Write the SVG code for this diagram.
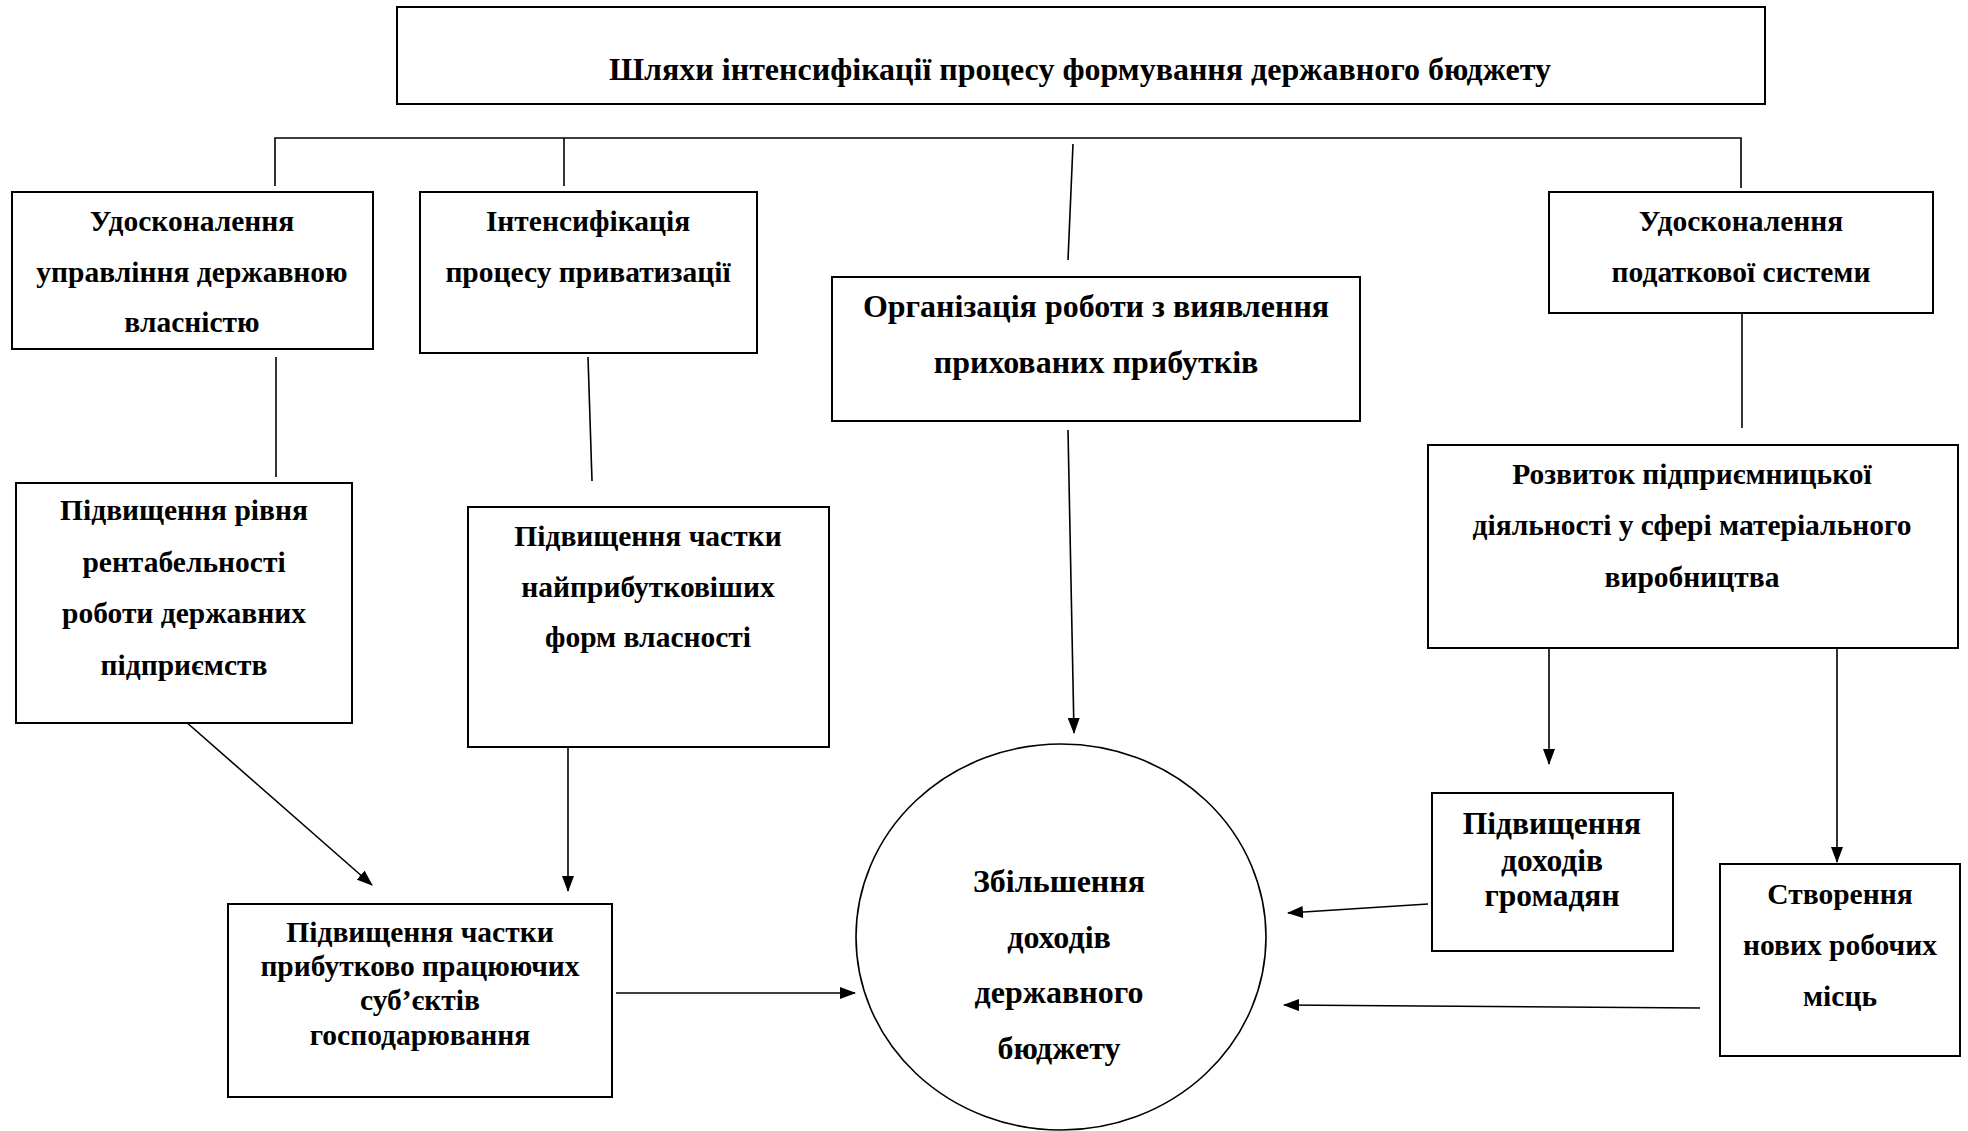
<svg xmlns="http://www.w3.org/2000/svg" width="1968" height="1131" viewBox="0 0 1968 1131">
<style>
.box{fill:#fff;stroke:#000;stroke-width:2}
.ln{fill:none;stroke:#000;stroke-width:1.6}
text{font-family:"Liberation Serif","Times New Roman",serif;font-weight:bold;font-size:29.5px;text-anchor:middle;fill:#000}
.big{font-size:31.5px}
.xl{font-size:32px}
</style>
<defs>
<marker id="ah" markerWidth="16" markerHeight="12" refX="15" refY="6" orient="auto" markerUnits="userSpaceOnUse">
<path d="M0,0 L16,6 L0,12 Z" fill="#000"/>
</marker>
</defs>
<rect width="1968" height="1131" fill="#fff"/>

<g id="connectors">
<path class="ln" d="M275,186 V138 H1741 V188"/>
<path class="ln" d="M564,138 V186"/>
<path class="ln" d="M1073,144 L1068,260"/>
<path class="ln" d="M276,357 V477"/>
<path class="ln" d="M588,357 L592,481"/>
<path class="ln" d="M1742,309 V428"/>
<path class="ln" marker-end="url(#ah)" d="M185,721 L372,885"/>
<path class="ln" marker-end="url(#ah)" d="M568,745 V891"/>
<path class="ln" marker-end="url(#ah)" d="M616,993 H855"/>
<path class="ln" marker-end="url(#ah)" d="M1068,430 L1074,733"/>
<path class="ln" marker-end="url(#ah)" d="M1549,646 V764"/>
<path class="ln" marker-end="url(#ah)" d="M1837,647 V862"/>
<path class="ln" marker-end="url(#ah)" d="M1428,904 L1288,913"/>
<path class="ln" marker-end="url(#ah)" d="M1700,1008 L1284,1005"/>
</g>

<g id="title">
<rect class="box" x="397" y="7" width="1368" height="97"/>
<text class="xl" x="1080" y="80">Шляхи інтенсифікації процесу формування державного бюджету</text>
</g>

<g id="n-derzhvlasnist">
<rect class="box" x="12" y="192" width="361" height="157"/>
<text x="192" y="231">Удосконалення</text>
<text x="192" y="282">управління державною</text>
<text x="192" y="332">власністю</text>
</g>

<g id="n-pryvatyzatsiia">
<rect class="box" x="420" y="192" width="337" height="161"/>
<text x="588" y="231">Інтенсифікація</text>
<text x="588" y="282">процесу приватизації</text>
</g>

<g id="n-prykhovani">
<rect class="box" x="832" y="277" width="528" height="144"/>
<text class="xl" x="1096" y="317">Організація роботи з виявлення</text>
<text class="xl" x="1096" y="373">прихованих прибутків</text>
</g>

<g id="n-podatkova">
<rect class="box" x="1549" y="192" width="384" height="121"/>
<text x="1741" y="231">Удосконалення</text>
<text x="1741" y="282">податкової системи</text>
</g>

<g id="n-rentabelnist">
<rect class="box" x="16" y="483" width="336" height="240"/>
<text x="184" y="520">Підвищення рівня</text>
<text x="184" y="572">рентабельності</text>
<text x="184" y="623">роботи державних</text>
<text x="184" y="675">підприємств</text>
</g>

<g id="n-formy">
<rect class="box" x="468" y="507" width="361" height="240"/>
<text x="648" y="546">Підвищення частки</text>
<text x="648" y="597">найприбутковіших</text>
<text x="648" y="647">форм власності</text>
</g>

<g id="n-subiekty">
<rect class="box" x="228" y="904" width="384" height="193"/>
<text x="420" y="942">Підвищення частки</text>
<text x="420" y="976">прибутково працюючих</text>
<text x="420" y="1010">суб’єктів</text>
<text x="420" y="1045">господарювання</text>
</g>

<g id="n-rozvytok">
<rect class="box" x="1428" y="445" width="530" height="203"/>
<text x="1692" y="484">Розвиток підприємницької</text>
<text x="1692" y="535">діяльності у сфері матеріального</text>
<text x="1692" y="587">виробництва</text>
</g>

<g id="n-dokhody">
<rect class="box" x="1432" y="793" width="241" height="158"/>
<text class="big" x="1552" y="834">Підвищення</text>
<text class="big" x="1552" y="871">доходів</text>
<text class="big" x="1552" y="906">громадян</text>
</g>

<g id="n-robochi">
<rect class="box" x="1720" y="864" width="240" height="192"/>
<text x="1840" y="904">Створення</text>
<text x="1840" y="955">нових робочих</text>
<text x="1840" y="1006">місць</text>
</g>

<g id="n-biudzhet">
<ellipse class="box" cx="1061" cy="937" rx="205" ry="193" style="stroke-width:1.6"/>
<text class="xl" x="1059" y="892">Збільшення</text>
<text class="xl" x="1059" y="948">доходів</text>
<text class="xl" x="1059" y="1003">державного</text>
<text class="xl" x="1059" y="1059">бюджету</text>
</g>
</svg>
